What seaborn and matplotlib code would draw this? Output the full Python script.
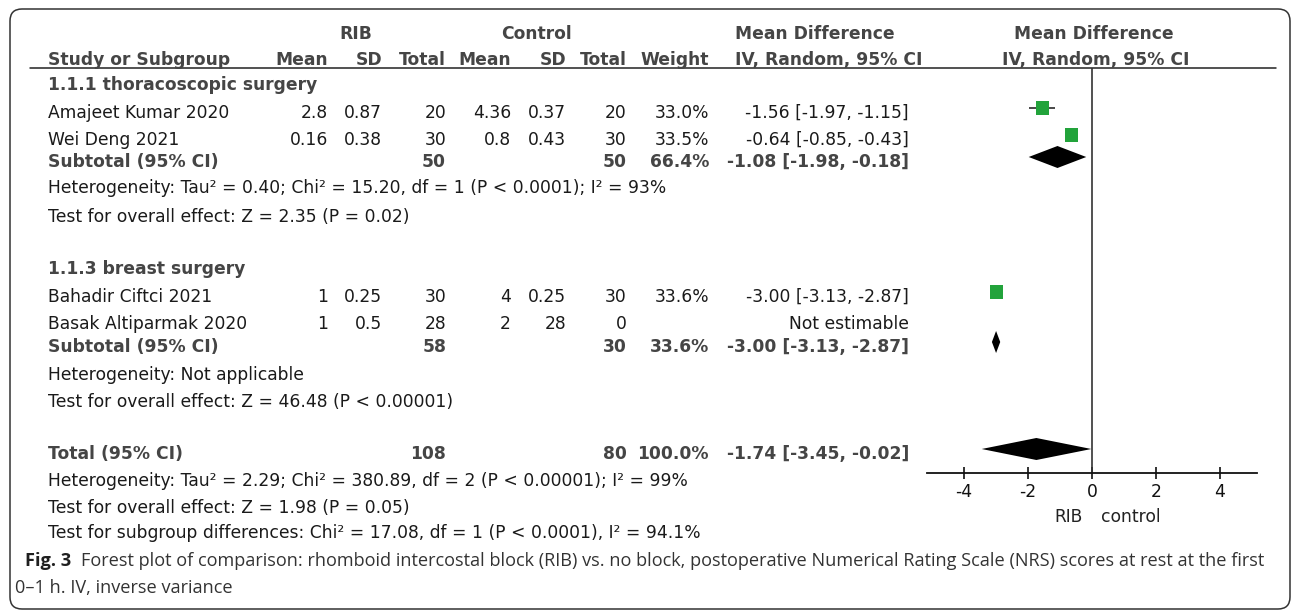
import matplotlib
matplotlib.use("Agg")
import matplotlib.pyplot as plt
import seaborn as sns
import pandas as pd
from matplotlib.patches import FancyBboxPatch

# ---- data ----
studies = ["Amajeet Kumar 2020", "Wei Deng 2021", "Bahadir Ciftci 2021", "Basak Altiparmak 2020"]
rib_mean = [2.8, 0.16, 1, 1]
rib_sd = [0.87, 0.38, 0.25, 0.5]
rib_n = [20, 30, 30, 28]
ctl_mean = [4.36, 0.8, 4, 2]
ctl_sd = [0.37, 0.43, 0.25, 28]
ctl_n = [20, 30, 30, 0]
weight = [33.0, 33.5, 33.6, None]
md = [-1.56, -0.64, -3.00, None]
md_lo = [-1.97, -0.85, -3.13, None]
md_hi = [-1.15, -0.43, -2.87, None]

subgroups = ["1.1.1 thoracoscopic surgery", "1.1.3 breast surgery"]
sub_rib_n = [50, 58]
sub_ctl_n = [50, 30]
sub_weight = [66.4, 33.6]
sub_md = [-1.08, -3.00]
sub_lo = [-1.98, -3.13]
sub_hi = [-0.18, -2.87]
sub_het = ["Heterogeneity: Tau\u00b2 = 0.40; Chi\u00b2 = 15.20, df = 1 (P < 0.0001); I\u00b2 = 93%",
           "Heterogeneity: Not applicable"]
sub_test = ["Test for overall effect: Z = 2.35 (P = 0.02)",
            "Test for overall effect: Z = 46.48 (P < 0.00001)"]

total_rib_n, total_ctl_n, total_weight = 108, 80, 100.0
total_md, total_lo, total_hi = -1.74, -3.45, -0.02
total_notes = ["Heterogeneity: Tau\u00b2 = 2.29; Chi\u00b2 = 380.89, df = 2 (P < 0.00001); I\u00b2 = 99%",
               "Test for overall effect: Z = 1.98 (P = 0.05)",
               "Test for subgroup differences: Chi\u00b2 = 17.08, df = 1 (P < 0.0001), I\u00b2 = 94.1%"]

x_ticks = [-4, -2, 0, 2, 4]
favours = ["RIB", "control"]
caption_bold = "Fig. 3"
caption_1 = ("Forest plot of comparison: rhomboid intercostal block (RIB) vs. no block, "
             "postoperative Numerical Rating Scale (NRS) scores at rest at the first")
caption_2 = "0\u20131 h. IV, inverse variance"

# ---- style ----
sns.set_style("white")
plt.rcParams["font.family"] = ["DejaVu Sans"]
plt.rcParams["axes.unicode_minus"] = False

W, H = 1292, 611
fig = plt.figure(figsize=(W / 100, H / 100), dpi=100)
fig.patch.set_facecolor("white")

# overlay axes in pixel units for the table text
ax_t = fig.add_axes([0, 0, 1, 1])
ax_t.set_xlim(0, W)
ax_t.set_ylim(H, 0)
ax_t.axis("off")

BLACK = "#1a1a1a"
GREY = "#454545"
FS = 12.3

# rounded frame
ax_t.add_patch(FancyBboxPatch((10, 9), 1280, 600, boxstyle="round,pad=0,rounding_size=12",
                              fill=False, ec="#333333", lw=1.1, clip_on=False))

# column anchors (right aligned)
cx = dict(rm=328, rs=382, rn=446, cm=511, cs=566, cn=627, w=709, ci=909)
LEFT = 48


def txt(x, y, s, ha="left", bold=False, color=None, **kw):
    ax_t.text(x, y, s, ha=ha, va="center", fontsize=FS,
              fontweight="bold" if bold else "normal",
              color=color or (GREY if bold else BLACK), **kw)


def fmt_ci(m, lo, hi):
    return f"{m:.2f} [{lo:.2f}, {hi:.2f}]"


# headers
txt(356, 34, "RIB", ha="center", bold=True)
txt(537, 34, "Control", ha="center", bold=True)
txt(735, 34, "Mean Difference", bold=True)
txt(1094, 34, "Mean Difference", ha="center", bold=True)
txt(LEFT, 60, "Study or Subgroup", bold=True)
for key, lab in [("rm", "Mean"), ("rs", "SD"), ("rn", "Total"), ("cm", "Mean"),
                 ("cs", "SD"), ("cn", "Total"), ("w", "Weight")]:
    txt(cx[key], 60, lab, ha="right", bold=True)
txt(735, 60, "IV, Random, 95% CI", bold=True)
txt(1096, 60, "IV, Random, 95% CI", ha="center", bold=True)
ax_t.plot([30, 1276], [68, 68], color="#222222", lw=1.1)

# row layout (text centre lines, px)
group_y = [85, 269]
study_y = [113, 140, 297, 324]
sub_y = [162, 347]
het_y = [188, 375]
test_y = [217, 402]
total_y = 454
notes_y = [481, 508, 533]
MARK_UP = 5

for g, name in enumerate(subgroups):
    txt(LEFT, group_y[g], name, bold=True)
for i, s in enumerate(studies):
    y = study_y[i]
    txt(LEFT, y, s)
    txt(cx["rm"], y, f"{rib_mean[i]:g}", ha="right")
    txt(cx["rs"], y, f"{rib_sd[i]:g}", ha="right")
    txt(cx["rn"], y, f"{rib_n[i]}", ha="right")
    txt(cx["cm"], y, f"{ctl_mean[i]:g}", ha="right")
    txt(cx["cs"], y, f"{ctl_sd[i]:g}", ha="right")
    txt(cx["cn"], y, f"{ctl_n[i]}", ha="right")
    if weight[i] is not None:
        txt(cx["w"], y, f"{weight[i]:.1f}%", ha="right")
        txt(cx["ci"], y, fmt_ci(md[i], md_lo[i], md_hi[i]), ha="right")
    else:
        txt(cx["ci"], y, "Not estimable", ha="right")
for g in range(len(subgroups)):
    y = sub_y[g]
    txt(LEFT, y, "Subtotal (95% CI)", bold=True)
    txt(cx["rn"], y, f"{sub_rib_n[g]}", ha="right", bold=True)
    txt(cx["cn"], y, f"{sub_ctl_n[g]}", ha="right", bold=True)
    txt(cx["w"], y, f"{sub_weight[g]:.1f}%", ha="right", bold=True)
    txt(cx["ci"], y, fmt_ci(sub_md[g], sub_lo[g], sub_hi[g]), ha="right", bold=True)
    txt(LEFT, het_y[g], sub_het[g])
    txt(LEFT, test_y[g], sub_test[g])

txt(LEFT, total_y, "Total (95% CI)", bold=True)
txt(cx["rn"], total_y, f"{total_rib_n}", ha="right", bold=True)
txt(cx["cn"], total_y, f"{total_ctl_n}", ha="right", bold=True)
txt(cx["w"], total_y, f"{total_weight:.1f}%", ha="right", bold=True)
txt(cx["ci"], total_y, fmt_ci(total_md, total_lo, total_hi), ha="right", bold=True)
for y, s in zip(notes_y, total_notes):
    txt(LEFT, y, s)

# ---- forest panel: same vertical pixel scale as the table ----
AX_L, AX_R, AX_T, AX_B = 927, 1257, 68, 473
ax = fig.add_axes([AX_L / W, 1 - AX_B / H, (AX_R - AX_L) / W, (AX_B - AX_T) / H])
ax.patch.set_alpha(0)
ax.set_xlim(-5.16, 5.16)
ax.set_ylim(AX_B, AX_T)
for sp in ["top", "left", "right"]:
    ax.spines[sp].set_visible(False)
ax.spines["bottom"].set_color("#111111")
ax.spines["bottom"].set_linewidth(1.3)
ax.set_xticks(x_ticks)
ax.set_xticklabels([str(t) for t in x_ticks])
ax.set_yticks([])
ax.tick_params(axis="x", direction="inout", length=9, width=1.2, pad=3,
               labelsize=FS, colors="#111111", bottom=True)
ax.axvline(0, color="#333333", lw=1.2, zorder=1)

df = pd.DataFrame({"md": md, "lo": md_lo, "hi": md_hi, "w": weight,
                   "y": [y - MARK_UP for y in study_y]}).dropna()
ax.hlines(df["y"], df["lo"], df["hi"], color="#3a3a3a", lw=1.3, zorder=2)
sns.scatterplot(data=df, x="md", y="y", marker="s", s=88, color="#22a33b",
                edgecolor="none", legend=False, ax=ax, zorder=3)
ax.set_xlabel("")
ax.set_ylabel("")

HALF = 11
for m, lo, hi, y in zip(sub_md + [total_md], sub_lo + [total_lo], sub_hi + [total_hi],
                        sub_y + [total_y]):
    yc = y - MARK_UP
    ax.fill([lo, m, hi, m], [yc, yc - HALF, yc, yc + HALF], color="black", lw=0, zorder=3)

txt(1083, 517, favours[0], ha="right", color="#222222")
txt(1101, 517, favours[1], color="#222222")

# ---- caption, sized to span the figure width ----
renderer = fig.canvas.get_renderer()
CAP_X1, CAP_X2, CAP_R = 25, 15, 1268
cap_fs = 12.0
for _ in range(2):
    tb = ax_t.text(CAP_X1, 561, caption_bold, fontsize=cap_fs, fontweight="bold",
                   family=["Open Sans", "DejaVu Sans"], color="#1f1f1f", va="center")
    wb = tb.get_window_extent(renderer).width
    tr = ax_t.text(CAP_X1 + wb + cap_fs * 0.75, 561, caption_1, fontsize=cap_fs,
                   family=["Open Sans", "DejaVu Sans"], color="#333333", va="center")
    bb = tr.get_window_extent(renderer)
    total_w = bb.x1 - CAP_X1
    tb.remove()
    tr.remove()
    cap_fs *= (CAP_R - CAP_X1) / total_w

tb = ax_t.text(CAP_X1, 561, caption_bold, fontsize=cap_fs, fontweight="bold",
               family=["Open Sans", "DejaVu Sans"], color="#1f1f1f", va="center")
wb = tb.get_window_extent(renderer).width
ax_t.text(CAP_X1 + wb + cap_fs * 0.75, 561, caption_1, fontsize=cap_fs,
          family=["Open Sans", "DejaVu Sans"], color="#333333", va="center")
ax_t.text(CAP_X2, 588, caption_2, fontsize=cap_fs,
          family=["Open Sans", "DejaVu Sans"], color="#333333", va="center")

fig.savefig("out.png", dpi=100)
plt.close(fig)
